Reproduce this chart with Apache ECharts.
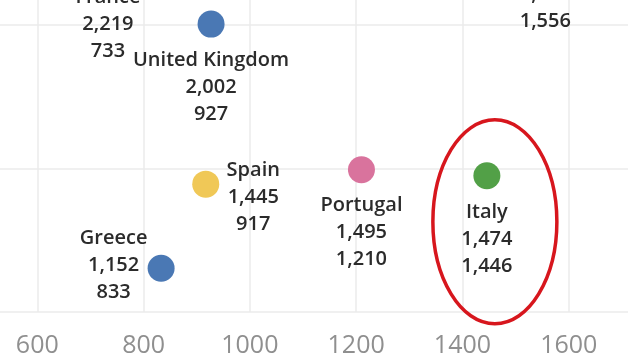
<!DOCTYPE html>
<html>
<head>
<meta charset="utf-8">
<script src="https://cdn.jsdelivr.net/npm/echarts@6/dist/echarts.min.js"></script>
<style>
html,body{margin:0;padding:0;background:#fff;overflow:hidden;width:628px;height:357px;}
#wrap{position:relative;width:628px;height:357px;overflow:hidden;}
#chart{position:absolute;left:-69px;top:-119px;width:744px;height:476px;}
</style>
</head>
<body>
<div id="wrap"><div id="chart"></div></div>
<script>
// Data (label line 2 = y value, line 3 = x value)
const countries = ['France', 'United Kingdom', 'Spain', 'Greece', 'Portugal', 'Italy', 'Germany'];
const yValues = [2219, 2002, 1445, 1152, 1495, 1474, 2325];
const xValues = [733, 927, 917, 833, 1210, 1446, 1556];
const highlighted = 'Italy';

const pointColors = ['#4a78b4', '#4a78b4', '#f0c857', '#4a78b4', '#d9739d', '#52a047', '#f28e2b'];

function fmt(v) { return v.toLocaleString('en-US'); }

const labelOverrides = {
  'Spain': { position: [61, -14], align: 'center', verticalAlign: 'top' },
  'Greece': { position: [-34, -30], align: 'center', verticalAlign: 'top' }
};

const data = countries.map((c, i) => {
  const d = {
    name: c,
    value: [xValues[i], yValues[i]],
    itemStyle: { color: pointColors[i] }
  };
  if (labelOverrides[c]) d.label = labelOverrides[c];
  return d;
});

const chart = echarts.init(document.getElementById('chart'), null, { renderer: 'canvas' });
chart.setOption({
  animation: false,
  backgroundColor: '#ffffff',
  grid: { left: 0, right: 0, top: 0, bottom: 45, containLabel: false, outerBoundsMode: 'none' },
  xAxis: {
    type: 'value', min: 400, max: 1800, interval: 200,
    axisLine: { show: false },
    axisTick: { show: false },
    splitLine: { show: true, lineStyle: { color: '#ebebeb', width: 1.5 } },
    axisLabel: {
      show: true, margin: 21, hideOverlap: false,
      fontFamily: 'Open Sans', fontSize: 25, color: '#8f8f8f',
      formatter: v => String(v)
    }
  },
  yAxis: {
    type: 'value', min: 1000, max: 2500, interval: 500,
    axisLine: { show: false }, axisTick: { show: false },
    axisLabel: { show: false },
    splitLine: { show: true, lineStyle: { color: '#ebebeb', width: 1.5 } }
  },
  series: [{
    type: 'scatter',
    symbolSize: 27,
    itemStyle: { opacity: 1 },
    data: data,
    label: {
      show: true,
      position: 'bottom',
      distance: 9,
      fontFamily: 'Open Sans',
      fontWeight: 600,
      fontSize: 20,
      lineHeight: 27,
      color: '#2b2b2b',
      formatter: p => p.name + '\n' + fmt(p.value[1]) + '\n' + fmt(p.value[0])
    }
  }]
});

// Red ellipse annotation around the highlighted point
const hi = countries.indexOf(highlighted);
const pt = chart.convertToPixel({ seriesIndex: 0 }, [xValues[hi], yValues[hi]]);
chart.setOption({
  graphic: [{
    type: 'ellipse',
    shape: { cx: pt[0] + 8, cy: pt[1] + 46, rx: 62, ry: 102 },
    style: { fill: 'none', stroke: '#d7161d', lineWidth: 3.5 },
    z: 100
  }]
});
</script>
</body>
</html>
